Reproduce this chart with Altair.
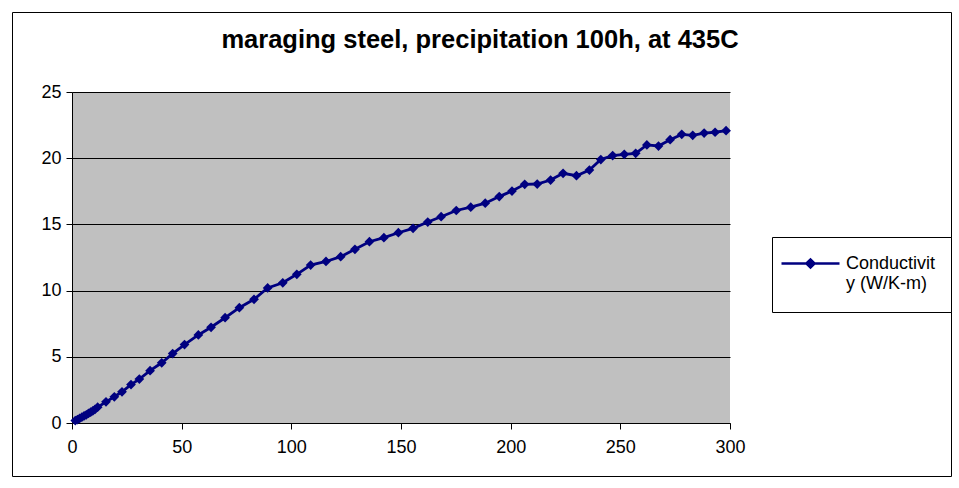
import altair as alt
import pandas as pd

# --- data ---
temps = [1.5, 2.5, 3.5, 4.5, 5.5, 6.5, 7.5, 8.5, 9.5, 10.5, 11.7, 15.5, 19.3, 22.8,
         26.9, 30.7, 35.6, 40.9, 45.9, 51.3, 57.6, 63.4, 69.8, 76.3, 83.0, 89.2,
         96.1, 102.5, 108.8, 115.8, 122.5, 129.0, 135.6, 142.2, 148.8, 155.5,
         162.2, 168.3, 175.2, 181.8, 188.4, 194.8, 200.6, 206.4, 212.1, 218.2,
         223.9, 230.0, 235.9, 241.1, 246.5, 251.8, 257.0, 262.1, 267.4, 272.7,
         278.0, 283.0, 288.2, 293.2, 298.2]
conductivity = [0.18, 0.26, 0.35, 0.44, 0.53, 0.62, 0.72, 0.82, 0.92, 1.03, 1.19,
                1.60, 1.98, 2.36, 2.90, 3.32, 3.95, 4.55, 5.24, 5.92, 6.65, 7.23,
                7.95, 8.71, 9.34, 10.20, 10.59, 11.23, 11.93, 12.20, 12.56, 13.12,
                13.69, 14.00, 14.37, 14.70, 15.18, 15.58, 16.05, 16.30, 16.60,
                17.10, 17.52, 18.03, 18.05, 18.35, 18.86, 18.68, 19.10, 19.90,
                20.20, 20.29, 20.37, 21.00, 20.92, 21.40, 21.80, 21.73, 21.90,
                21.96, 22.08]
series_name = "Conductivity (W/K-m)"
x_ticks = [0, 50, 100, 150, 200, 250, 300]
y_ticks = [0, 5, 10, 15, 20, 25]
title_text = "maraging steel, precipitation 100h, at 435C"

df = pd.DataFrame({"x": temps, "y": conductivity, "series": series_name})

FONT = "Liberation Sans"
NAVY = "#000080"
W, H = 658, 331

xs = alt.X("x:Q", scale=alt.Scale(domain=[0, 300], nice=False),
           axis=alt.Axis(values=x_ticks, grid=False, title=None, tickSize=6,
                         labelPadding=9, labelFontSize=18, labelFont=FONT,
                         labelColor="black", domainColor="black", tickColor="black",
                         labelFlush=False))
ys = alt.Y("y:Q", scale=alt.Scale(domain=[0, 25], nice=False),
           axis=alt.Axis(values=y_ticks, grid=True, gridColor="black", gridOpacity=1,
                         title=None, tickSize=6, labelPadding=5, labelFontSize=18,
                         labelFont=FONT, labelColor="black", domainColor="black",
                         tickColor="black"))

legend = alt.Legend(
    title=None, orient="none", legendX=708, legendY=141, padding=0,
    symbolType="M-1,0L1,0M-0.14,0L0,-0.14L0.14,0L0,0.14Z",
    symbolSize=3364, symbolStrokeWidth=2.5, symbolFillColor=NAVY,
    symbolStrokeColor=NAVY, labelFontSize=18, labelFont=FONT, labelColor="black",
    labelOffset=5, labelExpr="['Conductivit', 'y (W/K-m)']", labelLimit=200,
)

line = alt.Chart(df).mark_line(strokeWidth=2.8).encode(
    x=xs, y=ys,
    color=alt.Color("series:N", scale=alt.Scale(range=[NAVY]), legend=legend),
)
points = alt.Chart(df).mark_point(shape="diamond", filled=True, size=95,
                                  color=NAVY, opacity=1).encode(x="x:Q", y="y:Q")

title = alt.Chart(pd.DataFrame({"t": [title_text]})).mark_text(
    font=FONT, fontSize=25.5, fontWeight="bold", color="black", align="center",
    baseline="middle").encode(text="t:N", x=alt.value(408), y=alt.value(-52))

frame = alt.Chart(pd.DataFrame({"a": [0]})).mark_rect(
    fill=None, stroke="black", strokeWidth=1).encode(
    x=alt.value(-59.5), x2=alt.value(879.5), y=alt.value(-79.5), y2=alt.value(384.5))

legend_box = alt.Chart(pd.DataFrame({"a": [0]})).mark_rect(
    fill="white", stroke="black", strokeWidth=1).encode(
    x=alt.value(700.5), x2=alt.value(879.5), y=alt.value(145.5), y2=alt.value(220.5))

chart = alt.layer(frame, legend_box, line, points, title).properties(
    width=W, height=H,
    autosize=alt.AutoSizeParams(type="none"),
    padding={"left": 72, "top": 92, "right": 229, "bottom": 65},
    background="white",
).configure_view(fill="#C0C0C0", stroke=None)

chart.save("out.html", embed_options={"renderer": "svg", "actions": False})
